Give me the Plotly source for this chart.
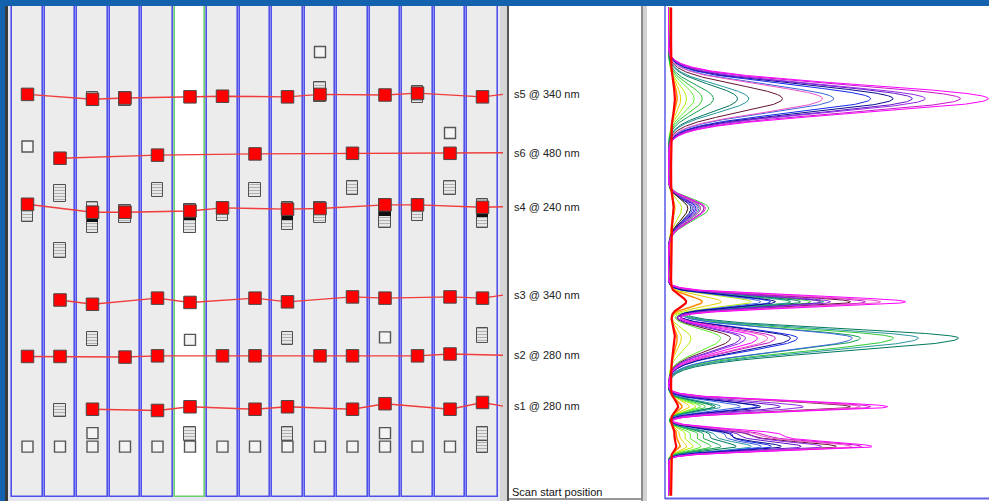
import numpy as np
import plotly.graph_objects as go

W, H = 989, 501

# ---------------- plate layout ----------------
lanes = list(range(1, 16))
highlight_lane = 6

row_labels = ["s5 @ 340 nm", "s6 @ 480 nm", "s4 @ 240 nm",
              "s3 @ 340 nm", "s2 @ 280 nm", "s1 @ 280 nm"]

# detected spot positions (migration distance, mm) per substance row
s5_lanes = [1, 3, 4, 6, 7, 9, 10, 12, 13, 15]
s5_pos = [65.6, 64.8, 65.0, 65.2, 65.3, 65.2, 65.6, 65.5, 65.8, 65.2]
s6_lanes = [2, 5, 8, 11, 14]
s6_pos = [55.2, 55.7, 55.9, 56.0, 56.0]
s4_lanes = [1, 3, 4, 6, 7, 9, 10, 12, 13, 15]
s4_pos = [47.7, 46.4, 46.4, 46.6, 47.1, 46.9, 47.0, 47.6, 47.6, 47.2]
s3_lanes = [2, 3, 5, 6, 8, 9, 11, 12, 14, 15]
s3_pos = [32.1, 31.4, 32.4, 31.7, 32.4, 31.8, 32.6, 32.4, 32.6, 32.4]
s2_lanes = [1, 2, 4, 5, 7, 8, 10, 11, 13, 14]
s2_pos = [22.9, 22.9, 22.8, 23.0, 23.0, 23.0, 23.0, 23.0, 23.0, 23.3]
s1_lanes = [3, 5, 6, 8, 9, 11, 12, 14, 15]
s1_pos = [14.3, 14.1, 14.7, 14.3, 14.7, 14.3, 15.2, 14.3, 15.4]
row_end_pos = [65.6, 56.1, 47.3, 32.9, 23.1, 14.8]

# unassigned spots (empty boxes)
empty_lanes = [1, 1, 2, 3, 3, 4, 5, 6, 6, 7, 8, 9, 10, 10, 11, 12, 12, 12, 13, 14, 14]
empty_pos = [57.1, 8.2, 8.2, 10.4, 8.2, 8.2, 8.2, 25.6, 8.2, 8.2, 8.2, 8.2,
             72.5, 8.2, 8.2, 26.0, 10.4, 8.2, 8.2, 59.3, 8.2]

# multi-band spot zones (striped boxes): lane, top, bottom (mm)
stripe_lanes = [2, 2, 2, 3, 5, 6, 8, 9, 9, 11, 14, 15, 15, 15,
                1, 3, 4, 6, 7, 9, 10, 12, 13, 15,
                10, 13, 3, 4]
stripe_top = [50.8, 41.4, 15.2, 26.9, 51.2, 11.4, 51.2, 26.9, 11.4, 51.5, 51.5, 27.5, 11.4, 9.1,
              48.6, 48.1, 47.6, 47.7, 48.1, 48.1, 48.1, 48.6, 48.6, 48.6,
              67.6, 67.0, 66.0, 66.0]
stripe_bottom = [48.1, 38.9, 13.0, 24.6, 48.9, 9.1, 48.9, 24.8, 9.1, 49.2, 49.2, 25.1, 9.1, 7.2,
                 44.8, 43.0, 44.6, 43.0, 45.0, 43.5, 44.6, 43.8, 45.0, 43.8,
                 64.4, 64.2, 63.7, 63.7]

# dark bands below the s4 spots
band_lanes = [3, 6, 9, 12, 15]
band_top = [46.0, 46.0, 46.3, 46.6, 46.3]
band_bottom = [44.8, 45.1, 45.1, 45.8, 45.6]

# ---------------- densitogram overlay ----------------
track_colors = ["#ff0000", "#ff8c00", "#e6d200", "#b4f000", "#5af032", "#32c832",
                "#14a050", "#00785a", "#2896a0", "#3c64dc", "#1428f0", "#0a0a8c",
                "#641432", "#6414c8", "#9628e6", "#c814c8", "#f050c8", "#ff00ff"]
track_offset = [9, 6, 4, 2, 1, 1, 1, 1, 1, 1, 1, 1, 1, 1, 1, 1, 1, 1]

peak_center = [64.9, 47.1, 31.8, 25.9, 14.7, 10.4, 8.2]
peak_sigma_up = [2.25, 1.4, 0.95, 1.5, 0.9, 0.75, 0.95]
peak_sigma_down = [2.3, 2.1, 0.9, 2.15, 0.75, 0.75, 0.65]

peak_a = [12, 22, 35, 55, 80, 105, 140, 215, 250, 515, 630, 700, 355, 760, 800, 910, 480, 997]
peak_b = [8, 12, 18, 40, 60, 125, 110, 100, 95, 75, 85, 70, 60, 80, 90, 110, 100, 115]
peak_c = [47, 100, 162, 256, 380, 443, 483, 411, 380, 287, 318, 333, 567, 474, 505, 614, 661, 739]
peak_d = [12, 22, 37, 69, 162, 701, 598, 904, 779, 573, 402, 380, 193, 224, 240, 333, 309, 277]
peak_e = [22, 37, 62, 84, 100, 115, 137, 146, 162, 224, 277, 287, 567, 349, 420, 630, 598, 683]
peak_f = [10, 18, 28, 45, 60, 80, 95, 110, 120, 150, 170, 160, 200, 180, 210, 240, 224, 293]
peak_g = [16, 31, 53, 75, 100, 131, 162, 209, 256, 287, 318, 349, 520, 411, 474, 598, 567, 630]
peak_heights = [peak_a, peak_b, peak_c, peak_d, peak_e, peak_f, peak_g]

# ---------------- figure ----------------
fig = go.Figure()

lane_fill = ["#ffffff" if l == highlight_lane else "#ececec" for l in lanes]
lane_edge = ["#6ccf6c" if l == highlight_lane else "#5050ea" for l in lanes]
fig.add_trace(go.Bar(x=lanes, y=[80] * len(lanes), base=[0] * len(lanes), width=0.935,
                     marker=dict(color=lane_fill, line=dict(color=lane_edge, width=1.6)),
                     hoverinfo="skip", showlegend=False))

fig.add_trace(go.Bar(x=stripe_lanes,
                     y=[t - b for t, b in zip(stripe_top, stripe_bottom)],
                     base=stripe_bottom, width=0.36,
                     marker=dict(color="#f2f2f2", line=dict(color="#505050", width=1),
                                 pattern=dict(shape="-", fgcolor="#6e6e6e", bgcolor="#f2f2f2",
                                              size=3, solidity=0.45)),
                     hoverinfo="skip", showlegend=False))

fig.add_trace(go.Bar(x=band_lanes,
                     y=[t - b for t, b in zip(band_top, band_bottom)],
                     base=band_bottom, width=0.34,
                     marker=dict(color="#101010", line=dict(width=0)),
                     hoverinfo="skip", showlegend=False))

line_end = len(lanes) + 0.63
rows = [(s5_lanes, s5_pos), (s6_lanes, s6_pos), (s4_lanes, s4_pos),
        (s3_lanes, s3_pos), (s2_lanes, s2_pos), (s1_lanes, s1_pos)]
for (ln, ps), end in zip(rows, row_end_pos):
    fig.add_trace(go.Scatter(x=ln + [line_end], y=ps + [end], mode="lines",
                             line=dict(color="#f03c3c", width=1.4),
                             hoverinfo="skip", showlegend=False))

fig.add_trace(go.Scatter(x=empty_lanes, y=empty_pos, mode="markers",
                         marker=dict(symbol="square", size=11, color="#f4f4f4",
                                     line=dict(color="#555555", width=1.4)),
                         hoverinfo="skip", showlegend=False))

for ln, ps in rows:
    fig.add_trace(go.Scatter(x=ln, y=ps, mode="markers",
                             marker=dict(symbol="square", size=12.5, color="#ff0000",
                                         line=dict(color="#4a4a4a", width=1)),
                             hoverinfo="skip", showlegend=False))

# densitograms: each track is built from the peak table (asymmetric gaussian bands)
pos = np.arange(0.2, 79.8, 0.04)
order = list(range(len(track_colors)))[1:] + [0]
for t in order:
    signal = np.full_like(pos, float(track_offset[t]))
    for c, su, sd, hs in zip(peak_center, peak_sigma_up, peak_sigma_down, peak_heights):
        s = np.where(pos >= c, su, sd)
        signal += hs[t] * np.exp(-0.5 * ((pos - c) / s) ** 2)
    width = 2.2 if t == 0 else (1.5 if t == 1 else 1)
    fig.add_trace(go.Scatter(x=signal, y=pos, xaxis="x2", yaxis="y", mode="lines",
                             line=dict(color=track_colors[t], width=width),
                             hoverinfo="skip", showlegend=False))

# ---------------- frame ----------------
def rect(x0, x1, y0, y1, color):
    return dict(type="rect", xref="paper", yref="paper", x0=x0 / W, x1=x1 / W,
                y0=1 - y1 / H, y1=1 - y0 / H, fillcolor=color, line_width=0, layer="below")

shapes = [
    rect(5, 8, 6, H, "#3a3a3a"),
    rect(8, 500, 6, H, "#e6e6f2"),
    rect(500, 507, 6, H, "#d6d6d6"),
    rect(507, 509, 6, H, "#555555"),
    rect(509, 641, 6, H, "#ffffff"),
    rect(641, 643, 6, H, "#8c8c8c"),
    rect(643, 647, 6, H, "#d2d2d2"),
    rect(647, W, 6, H, "#ffffff"),
    dict(type="line", xref="x2 domain", yref="paper", x0=0, x1=0, y0=1 - 499 / H, y1=1 - 6 / H,
         line=dict(color="#5a5ae6", width=1.5)),
    dict(type="line", xref="x2 domain", yref="paper", x0=0, x1=1, y0=1 - 498.5 / H, y1=1 - 498.5 / H,
         line=dict(color="#6464e6", width=2)),
    dict(type="line", xref="paper", yref="paper", x0=509 / W, x1=641 / W, y0=1 - 499 / H, y1=1 - 499 / H,
         line=dict(color="#333333", width=1)),
]

annotations = [dict(x=512 / W, xref="paper", y=p, yref="y", text=txt, showarrow=False,
                    xanchor="left", yanchor="middle",
                    font=dict(family="Liberation Sans, Arial", size=11, color="#222222"))
               for txt, p in zip(row_labels, row_end_pos)]
annotations.append(dict(x=510 / W, xref="paper", y=1 - 492 / H, yref="paper",
                        text="Scan start position", showarrow=False,
                        xanchor="left", yanchor="middle",
                        font=dict(family="Liberation Sans, Arial", size=11, color="#111111")))

lane_lo = 1 + (9 - 27.5) / 32.5
lane_hi = 1 + (510 - 27.5) / 32.5
fig.update_layout(
    width=W, height=H,
    margin=dict(l=0, r=0, t=0, b=0),
    paper_bgcolor="#1462ae",
    plot_bgcolor="rgba(0,0,0,0)",
    barmode="overlay",
    bargap=0,
    xaxis=dict(domain=[9 / W, 510 / W], range=[lane_lo, lane_hi], visible=False, fixedrange=True),
    yaxis=dict(domain=[1 - 497 / H, 1 - 6 / H], range=[0, 80], visible=False, fixedrange=True),
    xaxis2=dict(domain=[665 / W, 1], range=[-10, 1000], anchor="y", visible=False, fixedrange=True),
    shapes=shapes,
    annotations=annotations,
)

fig.write_html("out.html")
